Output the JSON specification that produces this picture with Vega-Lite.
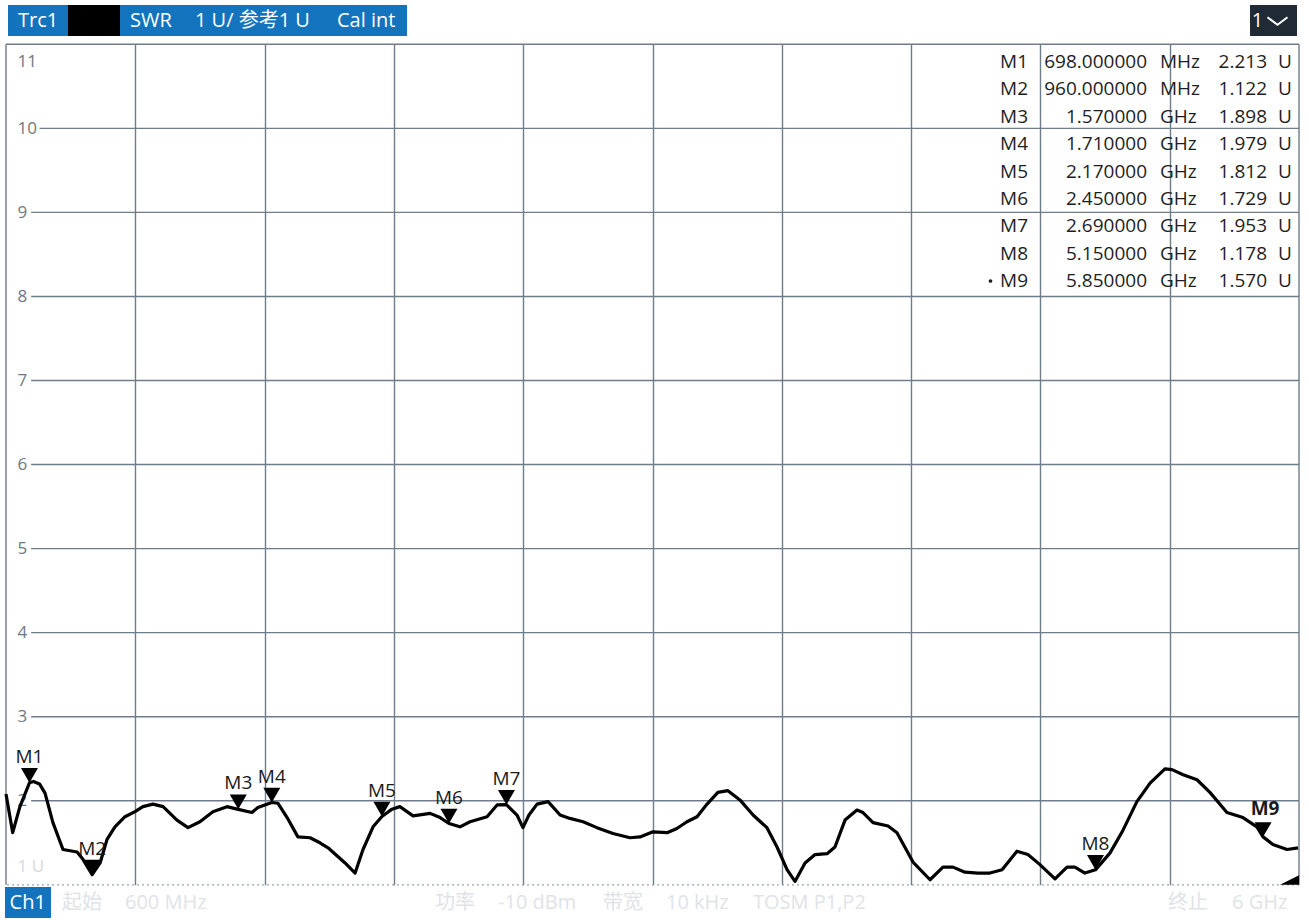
{
  "$schema": "https://vega.github.io/schema/vega-lite/v6.json",
  "width": 1293,
  "height": 840.5,
  "autosize": {"type": "none"},
  "padding": {"left": 6, "top": 44.3, "right": 10, "bottom": 35.2},
  "background": "#ffffff",
  "config": {
    "view": {"stroke": null},
    "font": "Open Sans, Noto Sans CJK SC, sans-serif"
  },
  "datasets": {
    "trace": [
      {"f": 600, "v": 2.08}, {"f": 628, "v": 1.62}, {"f": 658, "v": 1.93}, {"f": 698, "v": 2.213},
      {"f": 715, "v": 2.23}, {"f": 740, "v": 2.2}, {"f": 763, "v": 2.09}, {"f": 796, "v": 1.74},
      {"f": 838, "v": 1.42}, {"f": 897, "v": 1.39}, {"f": 922, "v": 1.3}, {"f": 960, "v": 1.122},
      {"f": 993, "v": 1.26}, {"f": 1022, "v": 1.54}, {"f": 1055, "v": 1.69}, {"f": 1097, "v": 1.81},
      {"f": 1139, "v": 1.87}, {"f": 1172, "v": 1.93}, {"f": 1214, "v": 1.96}, {"f": 1256, "v": 1.93},
      {"f": 1314, "v": 1.77}, {"f": 1360, "v": 1.68}, {"f": 1410, "v": 1.75}, {"f": 1464, "v": 1.87},
      {"f": 1523, "v": 1.93}, {"f": 1570, "v": 1.898}, {"f": 1627, "v": 1.86}, {"f": 1652, "v": 1.92},
      {"f": 1710, "v": 1.979}, {"f": 1736, "v": 1.97}, {"f": 1774, "v": 1.8}, {"f": 1819, "v": 1.57},
      {"f": 1870, "v": 1.56}, {"f": 1911, "v": 1.5}, {"f": 1945, "v": 1.44}, {"f": 2016, "v": 1.26},
      {"f": 2058, "v": 1.14}, {"f": 2091, "v": 1.42}, {"f": 2133, "v": 1.69}, {"f": 2170, "v": 1.812},
      {"f": 2212, "v": 1.9}, {"f": 2245, "v": 1.93}, {"f": 2300, "v": 1.82}, {"f": 2371, "v": 1.85},
      {"f": 2413, "v": 1.8}, {"f": 2450, "v": 1.729}, {"f": 2496, "v": 1.69}, {"f": 2538, "v": 1.75},
      {"f": 2609, "v": 1.81}, {"f": 2651, "v": 1.95}, {"f": 2690, "v": 1.953}, {"f": 2734, "v": 1.83},
      {"f": 2759, "v": 1.68}, {"f": 2784, "v": 1.83}, {"f": 2818, "v": 1.96}, {"f": 2864, "v": 1.99},
      {"f": 2914, "v": 1.83}, {"f": 2955, "v": 1.79}, {"f": 3010, "v": 1.75}, {"f": 3068, "v": 1.68},
      {"f": 3135, "v": 1.61}, {"f": 3206, "v": 1.56}, {"f": 3248, "v": 1.57}, {"f": 3302, "v": 1.63},
      {"f": 3361, "v": 1.62}, {"f": 3402, "v": 1.67}, {"f": 3444, "v": 1.75}, {"f": 3486, "v": 1.81},
      {"f": 3528, "v": 1.96}, {"f": 3573, "v": 2.1}, {"f": 3615, "v": 2.12}, {"f": 3665, "v": 2.01},
      {"f": 3720, "v": 1.83}, {"f": 3778, "v": 1.68}, {"f": 3820, "v": 1.45}, {"f": 3862, "v": 1.18},
      {"f": 3895, "v": 1.04}, {"f": 3937, "v": 1.26}, {"f": 3979, "v": 1.36}, {"f": 4029, "v": 1.37},
      {"f": 4062, "v": 1.45}, {"f": 4104, "v": 1.77}, {"f": 4154, "v": 1.89}, {"f": 4179, "v": 1.86},
      {"f": 4221, "v": 1.74}, {"f": 4284, "v": 1.7}, {"f": 4321, "v": 1.62}, {"f": 4388, "v": 1.27},
      {"f": 4459, "v": 1.06}, {"f": 4513, "v": 1.21}, {"f": 4555, "v": 1.21}, {"f": 4605, "v": 1.15},
      {"f": 4659, "v": 1.14}, {"f": 4709, "v": 1.14}, {"f": 4760, "v": 1.18}, {"f": 4822, "v": 1.4},
      {"f": 4868, "v": 1.36}, {"f": 4918, "v": 1.24}, {"f": 4981, "v": 1.07}, {"f": 5031, "v": 1.21},
      {"f": 5064, "v": 1.21}, {"f": 5106, "v": 1.14}, {"f": 5150, "v": 1.178}, {"f": 5211, "v": 1.38},
      {"f": 5265, "v": 1.65}, {"f": 5323, "v": 1.99}, {"f": 5378, "v": 2.21}, {"f": 5440, "v": 2.38},
      {"f": 5470, "v": 2.37}, {"f": 5516, "v": 2.31}, {"f": 5574, "v": 2.25}, {"f": 5628, "v": 2.1},
      {"f": 5699, "v": 1.86}, {"f": 5766, "v": 1.8}, {"f": 5824, "v": 1.69}, {"f": 5850, "v": 1.57},
      {"f": 5891, "v": 1.48}, {"f": 5950, "v": 1.42}, {"f": 5996, "v": 1.44}
    ],
    "markers": [
      {"m": "M1", "f": 698, "v": 2.213},
      {"m": "M2", "f": 960, "v": 1.122},
      {"m": "M3", "f": 1570, "v": 1.898},
      {"m": "M4", "f": 1710, "v": 1.979},
      {"m": "M5", "f": 2170, "v": 1.812},
      {"m": "M6", "f": 2450, "v": 1.729},
      {"m": "M7", "f": 2690, "v": 1.953},
      {"m": "M8", "f": 5150, "v": 1.178},
      {"m": "M9", "f": 5850, "v": 1.57}
    ],
    "table": [
      {"row": 1, "m": "M1", "freq": "698.000000", "unit": "MHz", "val": "2.213"},
      {"row": 2, "m": "M2", "freq": "960.000000", "unit": "MHz", "val": "1.122"},
      {"row": 3, "m": "M3", "freq": "1.570000", "unit": "GHz", "val": "1.898"},
      {"row": 4, "m": "M4", "freq": "1.710000", "unit": "GHz", "val": "1.979"},
      {"row": 5, "m": "M5", "freq": "2.170000", "unit": "GHz", "val": "1.812"},
      {"row": 6, "m": "M6", "freq": "2.450000", "unit": "GHz", "val": "1.729"},
      {"row": 7, "m": "M7", "freq": "2.690000", "unit": "GHz", "val": "1.953"},
      {"row": 8, "m": "M8", "freq": "5.150000", "unit": "GHz", "val": "1.178"},
      {"row": 9, "m": "M9", "freq": "5.850000", "unit": "GHz", "val": "1.570"}
    ],
    "grid": [{"v": 2}, {"v": 3}, {"v": 4}, {"v": 5}, {"v": 6}, {"v": 7}, {"v": 8}, {"v": 9}],
    "one": [{}]
  },
  "resolve": {"scale": {"y": "independent"}},
  "layer": [
    {
      "layer": [
        {
          "data": {"name": "grid"},
          "mark": {"type": "rule", "color": "#6f7c89", "strokeWidth": 1.4},
          "encoding": {
            "y": {"field": "v", "type": "quantitative"},
            "x": {"datum": 705},
            "x2": {"datum": 6000}
          }
        },
        {
          "data": {"name": "one"},
          "mark": {"type": "rule", "color": "#6f7c89", "strokeWidth": 1.4},
          "encoding": {"y": {"datum": 10}, "x": {"datum": 740}, "x2": {"datum": 6000}}
        },
        {
          "data": {"name": "one"},
          "mark": {"type": "rule", "color": "#6f7c89", "strokeWidth": 1.4},
          "encoding": {"x": {"datum": 600}}
        },
        {
          "data": {"name": "one"},
          "mark": {"type": "rule", "color": "#6f7c89", "strokeWidth": 1.4},
          "encoding": {"x": {"datum": 6000}}
        },
        {
          "data": {"name": "one"},
          "mark": {"type": "rule", "color": "#6f7c89", "strokeWidth": 1.4},
          "encoding": {"y": {"datum": 11}}
        },
        {
          "data": {"name": "one"},
          "mark": {"type": "rule", "color": "#9aa3ad", "strokeWidth": 1.2, "strokeDash": [2, 3]},
          "encoding": {"y": {"datum": 1}}
        },
        {
          "data": {"name": "trace"},
          "mark": {"type": "line", "color": "#000000", "strokeWidth": 3.2, "strokeJoin": "round"},
          "encoding": {
            "x": {
              "field": "f",
              "type": "quantitative",
              "scale": {"domain": [600, 6000], "nice": false, "zero": false},
              "axis": {
                "values": [1140, 1680, 2220, 2760, 3300, 3840, 4380, 4920, 5460],
                "grid": true,
                "gridColor": "#6f7c89",
                "gridWidth": 1.4,
                "gridOpacity": 1,
                "labels": false,
                "ticks": false,
                "domain": false,
                "title": null
              }
            },
            "y": {
              "field": "v",
              "type": "quantitative",
              "scale": {"domain": [1, 11], "nice": false, "zero": false},
              "axis": {
                "values": [1, 2, 3, 4, 5, 6, 7, 8, 9, 10, 11],
                "format": "d",
                "title": null,
                "grid": false,
                "ticks": false,
                "tickSize": 0,
                "domain": false,
                "labelAlign": "left",
                "labelPadding": -11,
                "labelFontSize": 17,
                "labelFlush": true,
                "labelFlushOffset": -9,
                "labelExpr": "datum.value == 1 ? '1 U' : datum.label",
                "labelColor": {
                  "condition": {"test": "datum.value == 1", "value": "#d4dae0"},
                  "value": "#6d7884"
                }
              }
            }
          }
        },
        {
          "data": {"name": "markers"},
          "mark": {"type": "point", "shape": "triangle-down", "filled": true, "color": "#000000", "size": 289, "opacity": 1, "yOffset": -7.4},
          "encoding": {
            "x": {"field": "f", "type": "quantitative"},
            "y": {"field": "v", "type": "quantitative"}
          }
        },
        {
          "data": {"name": "markers"},
          "transform": [{"filter": "datum.m != 'M9'"}],
          "mark": {"type": "text", "fontSize": 19, "color": "#1a1a1a", "align": "center", "baseline": "alphabetic", "yOffset": -20},
          "encoding": {
            "x": {"field": "f", "type": "quantitative"},
            "y": {"field": "v", "type": "quantitative"},
            "text": {"field": "m"}
          }
        },
        {
          "data": {"name": "markers"},
          "transform": [{"filter": "datum.m == 'M9'"}],
          "mark": {"type": "text", "fontSize": 19, "fontWeight": "bold", "color": "#1a1a1a", "align": "center", "baseline": "alphabetic", "yOffset": -22, "xOffset": 2},
          "encoding": {
            "x": {"field": "f", "type": "quantitative"},
            "y": {"field": "v", "type": "quantitative"},
            "text": {"field": "m"}
          }
        },
        {
          "data": {"name": "one"},
          "mark": {"type": "point", "shape": "M-1,0L0,0L0,-0.5Z", "filled": true, "color": "#000000", "size": 1444, "opacity": 1},
          "encoding": {"x": {"datum": 6000}, "y": {"datum": 1}}
        },
        {
          "data": {"name": "one"},
          "mark": {"type": "rect", "color": "#1473bd"},
          "encoding": {"x": {"datum": 608.4}, "x2": {"datum": 2274.7}, "y": {"datum": 11.468}, "y2": {"datum": 11.099}}
        },
        {
          "data": {"name": "one"},
          "mark": {"type": "rect", "color": "#000000"},
          "encoding": {"x": {"datum": 858.9}, "x2": {"datum": 1076.1}, "y": {"datum": 11.468}, "y2": {"datum": 11.099}}
        },
        {
          "data": {"name": "one"},
          "mark": {"type": "text", "text": "Trc1", "align": "left", "baseline": "middle", "fontSize": 20, "color": "#ffffff"},
          "encoding": {"x": {"datum": 650.1}, "y": {"datum": 11.277}}
        },
        {
          "data": {"name": "one"},
          "mark": {"type": "text", "text": "SWR", "align": "left", "baseline": "middle", "fontSize": 20, "color": "#ffffff"},
          "encoding": {"x": {"datum": 1117.9}, "y": {"datum": 11.277}}
        },
        {
          "data": {"name": "one"},
          "mark": {"type": "text", "text": "1 U/ 参考1 U", "align": "left", "baseline": "middle", "fontSize": 20, "color": "#ffffff"},
          "encoding": {"x": {"datum": 1389.3}, "y": {"datum": 11.277}}
        },
        {
          "data": {"name": "one"},
          "mark": {"type": "text", "text": "Cal int", "align": "left", "baseline": "middle", "fontSize": 20, "color": "#ffffff"},
          "encoding": {"x": {"datum": 1982.4}, "y": {"datum": 11.277}}
        },
        {
          "data": {"name": "one"},
          "mark": {"type": "rect", "color": "#1f2a35"},
          "encoding": {"x": {"datum": 5795.4}, "x2": {"datum": 5991.7}, "y": {"datum": 11.468}, "y2": {"datum": 11.099}}
        },
        {
          "data": {"name": "one"},
          "mark": {"type": "text", "text": "1", "align": "center", "baseline": "middle", "fontSize": 20, "color": "#ffffff"},
          "encoding": {"x": {"datum": 5826.7}, "y": {"datum": 11.277}}
        },
        {
          "data": {"name": "one"},
          "mark": {"type": "point", "shape": "M-1,-0.38L0,0.38L1,-0.38", "filled": false, "stroke": "#ffffff", "strokeWidth": 2, "size": 400, "opacity": 1},
          "encoding": {"x": {"datum": 5910.2}, "y": {"datum": 11.277}}
        },
        {
          "data": {"name": "one"},
          "mark": {"type": "rect", "color": "#1473bd"},
          "encoding": {"x": {"datum": 595.8}, "x2": {"datum": 787.9}, "y": {"datum": 0.974}, "y2": {"datum": 0.605}}
        },
        {
          "data": {"name": "one"},
          "mark": {"type": "text", "text": "Ch1", "align": "left", "baseline": "middle", "fontSize": 20, "color": "#ffffff"},
          "encoding": {"x": {"datum": 615}, "y": {"datum": 0.78}}
        },
        {
          "data": {"name": "one"},
          "mark": {"type": "text", "text": "起始", "align": "left", "baseline": "middle", "fontSize": 20, "color": "#dfe3e7"},
          "encoding": {"x": {"datum": 833.9}, "y": {"datum": 0.78}}
        },
        {
          "data": {"name": "one"},
          "mark": {"type": "text", "text": "600 MHz", "align": "left", "baseline": "middle", "fontSize": 20, "color": "#dfe3e7"},
          "encoding": {"x": {"datum": 1097}, "y": {"datum": 0.78}}
        },
        {
          "data": {"name": "one"},
          "mark": {"type": "text", "text": "功率", "align": "left", "baseline": "middle", "fontSize": 20, "color": "#dfe3e7"},
          "encoding": {"x": {"datum": 2391.6}, "y": {"datum": 0.78}}
        },
        {
          "data": {"name": "one"},
          "mark": {"type": "text", "text": "-10 dBm", "align": "left", "baseline": "middle", "fontSize": 20, "color": "#dfe3e7"},
          "encoding": {"x": {"datum": 2654.8}, "y": {"datum": 0.78}}
        },
        {
          "data": {"name": "one"},
          "mark": {"type": "text", "text": "带宽", "align": "left", "baseline": "middle", "fontSize": 20, "color": "#dfe3e7"},
          "encoding": {"x": {"datum": 3093.3}, "y": {"datum": 0.78}}
        },
        {
          "data": {"name": "one"},
          "mark": {"type": "text", "text": "10 kHz", "align": "left", "baseline": "middle", "fontSize": 20, "color": "#dfe3e7"},
          "encoding": {"x": {"datum": 3356.4}, "y": {"datum": 0.78}}
        },
        {
          "data": {"name": "one"},
          "mark": {"type": "text", "text": "TOSM P1,P2", "align": "left", "baseline": "middle", "fontSize": 20, "color": "#dfe3e7"},
          "encoding": {"x": {"datum": 3719.7}, "y": {"datum": 0.78}}
        },
        {
          "data": {"name": "one"},
          "mark": {"type": "text", "text": "终止", "align": "left", "baseline": "middle", "fontSize": 20, "color": "#dfe3e7"},
          "encoding": {"x": {"datum": 5453}, "y": {"datum": 0.78}}
        },
        {
          "data": {"name": "one"},
          "mark": {"type": "text", "text": "6 GHz", "align": "left", "baseline": "middle", "fontSize": 20, "color": "#dfe3e7"},
          "encoding": {"x": {"datum": 5720.2}, "y": {"datum": 0.78}}
        }
      ]
    },
    {
      "data": {"name": "table"},
      "encoding": {
        "y": {"field": "row", "type": "quantitative", "scale": {"domain": [1, 9], "range": [17.7, 236.7]}, "axis": null}
      },
      "layer": [
        {
          "mark": {"type": "text", "align": "right", "baseline": "middle", "fontSize": 19, "color": "#1e1e1e"},
          "encoding": {"x": {"datum": 4868.2}, "text": {"field": "m"}}
        },
        {
          "mark": {"type": "text", "align": "right", "baseline": "middle", "fontSize": 19, "color": "#1e1e1e"},
          "encoding": {"x": {"datum": 5365.2}, "text": {"field": "freq"}}
        },
        {
          "mark": {"type": "text", "align": "left", "baseline": "middle", "fontSize": 19, "color": "#1e1e1e"},
          "encoding": {"x": {"datum": 5419.5}, "text": {"field": "unit"}}
        },
        {
          "mark": {"type": "text", "align": "right", "baseline": "middle", "fontSize": 19, "color": "#1e1e1e"},
          "encoding": {"x": {"datum": 5866.4}, "text": {"field": "val"}}
        },
        {
          "mark": {"type": "text", "text": "U", "align": "left", "baseline": "middle", "fontSize": 19, "color": "#1e1e1e"},
          "encoding": {"x": {"datum": 5912.3}}
        },
        {
          "transform": [{"filter": "datum.row == 9"}],
          "mark": {"type": "point", "shape": "circle", "filled": true, "color": "#1e1e1e", "size": 14, "opacity": 1},
          "encoding": {"x": {"datum": 4711.6}}
        }
      ]
    }
  ]
}
